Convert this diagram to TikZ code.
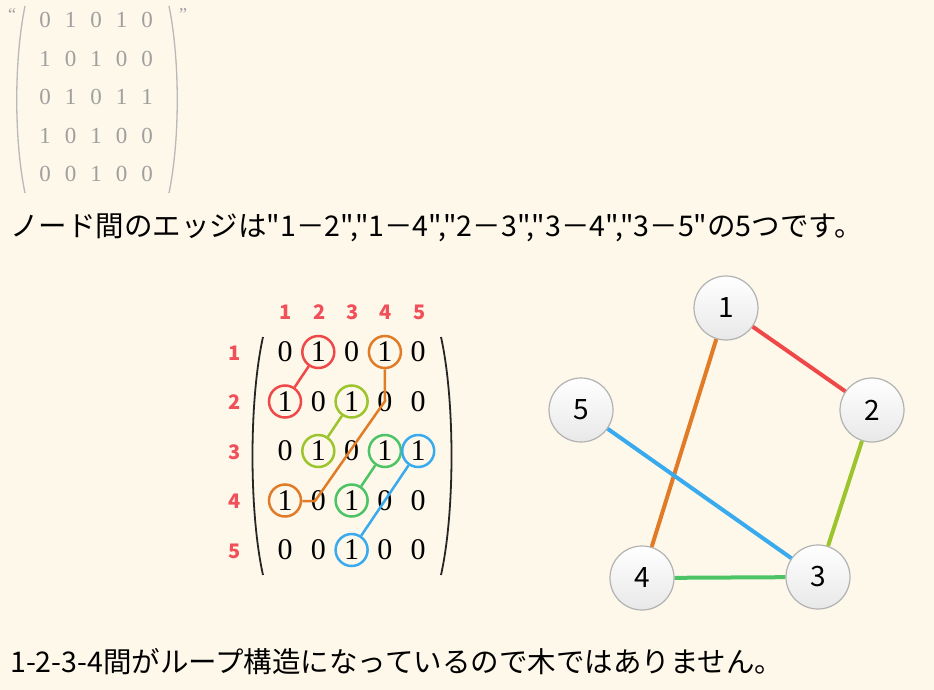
\documentclass[tikz,border=0pt]{standalone}
\usepackage{fontspec}
\setmainfont{Liberation Serif}
\newfontfamily\jp{Noto Sans CJK JP}
\newfontfamily\lsans{Liberation Sans}
\definecolor{bg}{HTML}{FEF8EA}
\definecolor{cred}{HTML}{EE4848}
\definecolor{corange}{HTML}{E07B28}
\definecolor{cyg}{HTML}{9CC42C}
\definecolor{cgreen}{HTML}{4CC466}
\definecolor{cblue}{HTML}{3AAAEE}
\definecolor{lbl}{HTML}{F0505A}
\tikzset{
  topent/.style={text=gray!75, font=\fontsize{23}{23}\selectfont, inner sep=0pt},
  ment/.style={text=black, font=\fontsize{30}{30}\selectfont, inner sep=0pt},
  lab/.style={text=lbl, font=\jp\bfseries\fontsize{20}{20}\selectfont, inner sep=0pt},
  ring/.style={circle, draw=#1, line width=2.5pt, minimum size=32pt, inner sep=0pt},
  conn/.style={draw=#1, line width=2.5pt},
  gnode/.style={circle, draw=gray!60, line width=1.2pt, top color=white, bottom color=gray!18,
     minimum size=64pt, inner sep=0pt, font=\jp\fontsize{28}{28}\selectfont},
  gedge/.style={draw=#1, line width=4pt},
  jtext/.style={anchor=west, inner sep=0pt, font=\jp\fontsize{28.5}{32}\selectfont}
}
\begin{document}
\begin{tikzpicture}[x=1pt,y=-1pt]
\fill[bg] (0,0) rectangle (934,690);
\useasboundingbox (0,0) rectangle (934,690);

% ---- top gray matrix ----
\foreach \row [count=\r] in {{0,1,0,1,0},{1,0,1,0,0},{0,1,0,1,1},{1,0,1,0,0},{0,0,1,0,0}} {
  \foreach \v [count=\c] in \row {
    \node[topent] (t\r\c) at ({45+25.5*(\c-1)}, {20+38.5*(\r-1)}) {\v};
  }
}
\draw[gray!55, line width=1.3pt] (25,6) .. controls (14,60) and (14,140) .. (25,193);
\draw[gray!55, line width=1.3pt] (169,6) .. controls (180,60) and (180,140) .. (169,193);
\node[text=gray!75, font=\fontsize{18}{18}\selectfont, inner sep=0pt] (q1) at (12,15) {“};
\node[text=gray!75, font=\fontsize{18}{18}\selectfont, inner sep=0pt] (q2) at (183,15) {”};

% ---- line 1 ----
\node[jtext] (line1) at (10,228) {ノード間のエッジは"1－2","1－4","2－3","3－4","3－5"の5つです。};

% ---- black matrix ----
\foreach \row [count=\r] in {{0,1,0,1,0},{1,0,1,0,0},{0,1,0,1,1},{1,0,1,0,0},{0,0,1,0,0}} {
  \foreach \v [count=\c] in \row {
    \node[ment] (m\r\c) at ({285+33.3*(\c-1)}, {352+49.5*(\r-1)}) {\v};
  }
}
\foreach \i in {1,...,5} {
  \node[lab] (cl\i) at ({286+33.3*(\i-1)}, 312) {\i};
  \node[lab] (rl\i) at (235, {353+49.5*(\i-1)}) {\i};
}
\draw[black!85, line width=1.8pt] (263,337) .. controls (249,400) and (249,512) .. (263,575);
\draw[black!85, line width=1.8pt] (441,337) .. controls (455,400) and (455,512) .. (441,575);

\node[ring=cred] (c12) at (m12) {};
\node[ring=cred] (c21) at (m21) {};
\node[ring=corange] (c14) at (m14) {};
\node[ring=corange] (c41) at (m41) {};
\node[ring=cyg] (c23) at (m23) {};
\node[ring=cyg] (c32) at (m32) {};
\node[ring=cgreen] (c34) at (m34) {};
\node[ring=cgreen] (c43) at (m43) {};
\node[ring=cblue] (c35) at (m35) {};
\node[ring=cblue] (c53) at (m53) {};

\draw[conn=cred] (c12) -- (c21);
\draw[conn=cyg] (c23) -- (c32);
\draw[conn=cgreen] (c34) -- (c43);
\draw[conn=cblue] (c35) -- (c53);
\coordinate (ob1) at (385,401);
\coordinate (ob2) at (315,501);
\draw[conn=corange, line join=round] (c14.south) -- (ob1) -- (ob2) -- (c41.east |- ob2);

% ---- graph ----
\node[gnode] (g1) at (726,308) {1};
\node[gnode] (g2) at (872,410) {2};
\node[gnode] (g3) at (818,577) {3};
\node[gnode] (g4) at (642,578) {4};
\node[gnode] (g5) at (581,410) {5};
\draw[gedge=cred] (g1) -- (g2);
\draw[gedge=corange] (g1) -- (g4);
\draw[gedge=cyg] (g2) -- (g3);
\draw[gedge=cgreen] (g4) -- (g3);
\draw[gedge=cblue] (g5) -- (g3);

% ---- line 2 ----
\node[jtext] (line2) at (10,662) {1-2-3-4間がループ構造になっているので木ではありません。};
\end{tikzpicture}
\end{document}
